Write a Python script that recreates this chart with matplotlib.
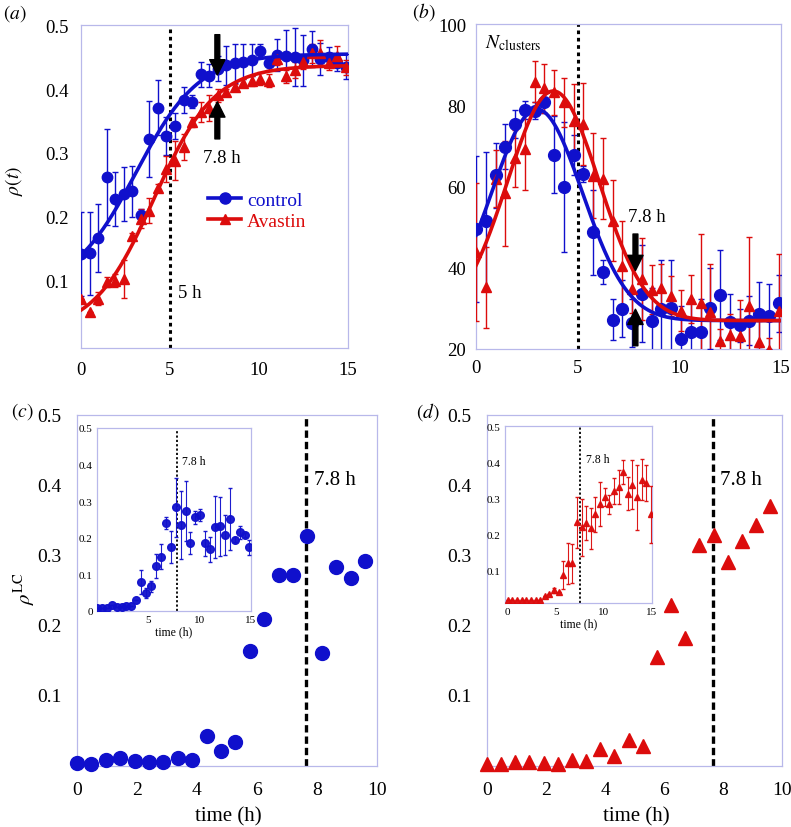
import numpy as np
import matplotlib.pyplot as plt
from matplotlib.lines import Line2D

plt.rcParams['font.family'] = ['Liberation Serif', 'DejaVu Serif']
plt.rcParams['mathtext.fontset'] = 'stix'

BLUE = '#1010cc'
RED = '#dc0c0c'
FRAME = '#b8b8ea'

# sampling times (h), one image every ~29 min
times = [0.0, 0.48, 0.96, 1.44, 1.92, 2.4, 2.88, 3.36, 3.84, 4.32, 4.8,
         5.28, 5.76, 6.24, 6.72, 7.2, 7.68, 8.16, 8.64, 9.12, 9.6, 10.08,
         10.56, 11.04, 11.52, 12.0, 12.48, 12.96, 13.44, 13.92, 14.4, 14.88]

# (a) density rho(t)
rho_control = [0.142, 0.143, 0.167, 0.262, 0.228, 0.236, 0.24, 0.203, 0.322, 0.371, 0.327,
               0.342, 0.383, 0.38, 0.423, 0.421, 0.432, 0.437, 0.44, 0.443, 0.445, 0.46,
               0.44, 0.453, 0.452, 0.45, 0.445, 0.462, 0.447, 0.45, 0.44, 0.435]
rho_control_err = [0.065, 0.065, 0.053, 0.075, 0.042, 0.042, 0.04, 0.01, 0.06, 0.043, 0.03,
                   0.02, 0.02, 0.01, 0.02, 0.018, 0.02, 0.03, 0.03, 0.028, 0.025, 0.01,
                   0.01, 0.025, 0.04, 0.045, 0.04, 0.028, 0.025, 0.015, 0.012, 0.02]
rho_avastin = [0.072, 0.051, 0.072, 0.098, 0.1, 0.103, 0.17, 0.197, 0.21, 0.246, 0.275,
               0.288, 0.309, 0.348, 0.364, 0.37, 0.39, 0.395, 0.403, 0.41, 0.413, 0.416,
               0.413, 0.447, 0.42, 0.43, 0.442, 0.456, 0.456, 0.44, 0.452, 0.434]
rho_avastin_err = [0.0, 0.0, 0.01, 0.008, 0.01, 0.03, 0.005, 0.015, 0.02, 0.005, 0.02,
                   0.03, 0.02, 0.008, 0.015, 0.02, 0.01, 0.005, 0.005, 0.005, 0.008, 0.01,
                   0.01, 0.01, 0.01, 0.012, 0.01, 0.015, 0.02, 0.01, 0.015, 0.012]
# logistic fits: low, high, midpoint, width
fit_a_control = (0.085, 0.455, 3.1, 1.78)
fit_a_avastin = (0.02, 0.437, 4.1, 1.7)

# (b) number of clusters
ncl_control = [49.6, 51.4, 62.8, 69.8, 75.4, 78.8, 78.7, 80.7, 67.8, 59.8, 67.8,
               63.1, 48.7, 39.0, 27.2, 29.9, 26.4, 33.6, 27.0, 29.9, 30.0, 22.5,
               24.3, 24.3, 30.0, 33.3, 26.6, 25.8, 27.0, 28.6, 28.0, 31.3]
ncl_control_err = [18, 17, 8, 5.5, 3.5, 2.3, 2, 2.5, 9.5, 16, 5,
                   2, 10.5, 3, 5, 7, 6, 12, 8, 12, 12, 8,
                   8, 8, 10, 11, 7, 4, 6, 8, 8, 7]
ncl_avastin = [43.8, 35.2, 61.9, 58.3, 66.9, 69.2, 85.8, 84.2, 83.2, 80.7, 76.2,
               75.4, 62.7, 61.9, 51.6, 40.5, 34.8, 37.2, 34.6, 35.0, 33.0, 29.4,
               32.3, 31.3, 29.0, 21.9, 23.5, 23.1, 30.5, 21.8, 19.8, 29.4]
ncl_avastin_err = [17, 10, 7, 13, 7, 10, 5, 6, 5.5, 6, 9,
                   10, 10.5, 10, 10, 11, 6, 10, 6, 6, 5, 5,
                   6, 17, 12, 3, 5, 9, 17, 5, 3, 14]
# gaussian fits: baseline, amplitude, centre, sigma
fit_b_control = (27.0, 52.0, 3.0, 2.23)
fit_b_avastin = (27.0, 56.5, 3.8, 2.25)

# (c) and (d) LC density, main panels (first 10 h)
lc_control = [0.001, 0.0, 0.006, 0.008, 0.004, 0.003, 0.002, 0.008, 0.006, 0.040, 0.018,
              0.031, 0.162, 0.208, 0.270, 0.270, 0.327, 0.159, 0.282, 0.267, 0.291]
lc_avastin = [0.0, 0.0, 0.002, 0.003, 0.001, 0.0, 0.006, 0.004, 0.021, 0.011, 0.034,
              0.026, 0.153, 0.227, 0.18, 0.313, 0.328, 0.289, 0.32, 0.342, 0.37]

# insets, whole 15 h with error bars
lc_control_in = [0.009, 0.007, 0.009, 0.016, 0.012, 0.012, 0.014, 0.014, 0.03, 0.08, 0.05,
                 0.067, 0.123, 0.148, 0.241, 0.175, 0.283, 0.235, 0.273, 0.186, 0.256,
                 0.262, 0.185, 0.169, 0.229, 0.231, 0.207, 0.251, 0.195, 0.215, 0.207, 0.174]
lc_control_in_err = [0, 0, 0, 0, 0, 0, 0, 0, 0, 0.033, 0.014,
                     0.016, 0.034, 0.034, 0.016, 0.043, 0.08, 0.093, 0.082, 0.03, 0.018,
                     0.016, 0.034, 0.034, 0.084, 0.08, 0.055, 0.084, 0.006, 0.018, 0.006, 0.02]
lc_avastin_in = [0.018, 0.018, 0.018, 0.018, 0.018, 0.018, 0.018, 0.018, 0.029, 0.035, 0.045,
                 0.041, 0.087, 0.12, 0.12, 0.234, 0.22, 0.232, 0.218, 0.256, 0.285,
                 0.305, 0.284, 0.32, 0.332, 0.373, 0.313, 0.338, 0.304, 0.352, 0.342, 0.256]
lc_avastin_in_err = [0, 0, 0, 0, 0, 0, 0, 0, 0, 0, 0.008,
                     0, 0.039, 0.057, 0.055, 0.07, 0.08, 0.048, 0.057, 0.048, 0.061,
                     0.025, 0.027, 0.036, 0.047, 0.034, 0.046, 0.068, 0.09, 0.057, 0.05, 0.08]


def logistic(t, low, high, t0, w):
    return low + (high - low) / (1 + np.exp(-(t - t0) / w))


def gauss(t, base, amp, t0, s):
    return base + amp * np.exp(-(t - t0) ** 2 / (2 * s ** 2))


def frame(ax, fs, pad):
    for sp in ax.spines.values():
        sp.set_color(FRAME)
        sp.set_linewidth(0.9)
    ax.tick_params(length=0, labelsize=fs, pad=pad)


def arrow(ax, x, y0, y1):
    ax.annotate('', xy=(x, y1), xytext=(x, y0),
                arrowprops=dict(facecolor='black', edgecolor='black', width=3.5,
                                headwidth=11, headlength=11, shrink=0), zorder=6)


fig = plt.figure(figsize=(7.91, 8.28), dpi=100)
t_fit = np.linspace(0, 15, 300)

# ---- (a)
ax = fig.add_axes([0.1024, 0.5785, 0.3375, 0.390])
frame(ax, 13.5, 9)
ax.errorbar(times, rho_control, yerr=rho_control_err, fmt='o', color=BLUE, ms=7.5,
            elinewidth=1, capsize=2, zorder=3)
ax.errorbar(times, rho_avastin, yerr=rho_avastin_err, fmt='^', color=RED, ms=6.5,
            elinewidth=1, capsize=2, zorder=3)
ax.plot(t_fit, logistic(t_fit, *fit_a_control), color=BLUE, lw=2.6, zorder=4)
ax.plot(t_fit, logistic(t_fit, *fit_a_avastin), color=RED, lw=2.6, zorder=4)
ax.axvline(5, color='black', ls=(0, (1.2, 1.2)), lw=2.2, zorder=2)
arrow(ax, 7.66, 0.485, 0.422)
arrow(ax, 7.66, 0.322, 0.38)
ax.text(7.9, 0.293, '7.8 h', fontsize=13.5, ha='center', va='center')
ax.text(6.1, 0.082, '5 h', fontsize=13.5, ha='center', va='center')
ax.set_xlim(0, 15)
ax.set_ylim(-0.005, 0.5)
ax.set_xticks([0, 5, 10, 15])
ax.set_yticks([0.1, 0.2, 0.3, 0.4, 0.5])
handles = [Line2D([], [], color=BLUE, marker='o', ms=8, lw=2.6),
           Line2D([], [], color=RED, marker='^', ms=7, lw=2.6)]
ax.legend(handles, ['control', 'Avastin'], loc='upper left', bbox_to_anchor=(0.44, 0.515),
          frameon=False, fontsize=14, handlelength=1.7, handletextpad=0.3,
          labelspacing=0.15, borderpad=0, labelcolor=[BLUE, RED])

# ---- (b)
ax = fig.add_axes([0.6018, 0.5773, 0.3856, 0.3925])
frame(ax, 13.5, 7)
ax.errorbar(times, ncl_control, yerr=ncl_control_err, fmt='o', color=BLUE, ms=8.5,
            elinewidth=1, capsize=2, zorder=3)
ax.errorbar(times, ncl_avastin, yerr=ncl_avastin_err, fmt='^', color=RED, ms=7.5,
            elinewidth=1, capsize=2, zorder=3)
ax.plot(t_fit, gauss(t_fit, *fit_b_control), color=BLUE, lw=2.6, zorder=4)
ax.plot(t_fit, gauss(t_fit, *fit_b_avastin), color=RED, lw=2.6, zorder=4)
ax.axvline(5, color='black', ls=(0, (1.2, 1.2)), lw=2.2, zorder=2)
arrow(ax, 7.84, 48.3, 39.3)
arrow(ax, 7.84, 20.8, 29.8)
ax.text(8.4, 52.5, '7.8 h', fontsize=13.5, ha='center', va='center')
ax.text(0.45, 95.5, r'$N_{\rm clusters}$', fontsize=14, ha='left', va='center')
ax.set_xlim(0, 15)
ax.set_ylim(20, 100)
ax.set_xticks([0, 5, 10, 15])
ax.set_yticks([20, 40, 60, 80, 100])

# ---- (c) and (d)
for pos, vals, mk, col, ms, vline in [
        ([0.0973, 0.0737, 0.3792, 0.4239], lc_control, 'o', BLUE, 10, 7.65),
        ([0.6157, 0.0737, 0.3729, 0.4239], lc_avastin, '^', RED, 10, 7.65)]:
    ax = fig.add_axes(pos)
    frame(ax, 14, 11)
    ax.plot(times[:21], vals, mk, color=col, ms=ms, clip_on=False, zorder=3)
    ax.axvline(vline, color='black', ls=(0, (2.2, 1.2)), lw=2.4, zorder=2)
    ax.text(8.6, 0.408, '7.8 h', fontsize=15, ha='center', va='center')
    ax.set_xlim(0, 10)
    ax.set_ylim(-0.003, 0.5)
    ax.set_xticks([0, 2, 4, 6, 8, 10])
    ax.set_yticks([0.1, 0.2, 0.3, 0.4, 0.5])

# insets
for pos, vals, errs, mk, col, ms, vline, xlo, yticks, xticks in [
        ([0.1226, 0.2609, 0.1943, 0.221], lc_control_in, lc_control_in_err, 'o', BLUE, 5.5,
         7.8, 0.0, [0, 0.1, 0.2, 0.3, 0.4, 0.5], [5, 10, 15]),
        ([0.6384, 0.2705, 0.1858, 0.2132], lc_avastin_in, lc_avastin_in_err, '^', RED, 4,
         7.5, -0.3, [0.1, 0.2, 0.3, 0.4, 0.5], [0, 5, 10, 15])]:
    ins = fig.add_axes(pos, zorder=5)
    frame(ins, 8, 3)
    ins.errorbar(times, vals, yerr=errs, fmt=mk, color=col, ms=ms, elinewidth=0.8,
                 capsize=1.5, alpha=0.95, zorder=3)
    ins.axvline(vline, color='black', ls=(0, (1.2, 1.2)), lw=1.3, zorder=2)
    ins.text(9.4, 0.41, '7.8 h', fontsize=8.5, ha='center', va='center')
    ins.set_xlim(xlo, 15)
    ins.set_ylim(0.01 if xlo < 0 else 0, 0.5)
    ins.set_yticks(yticks)
    ins.set_yticklabels(['0' if v == 0 else f'{v:g}' for v in yticks])
    ins.set_xticks(xticks)
    ins.set_xlabel('time (h)', fontsize=8.5, labelpad=1)

# axis titles and panel letters
fig.text(14 / 791, 1 - 181 / 828, r'$\rho(t)$', fontsize=14, rotation=90, ha='center', va='center')
fig.text(24 / 791, 1 - 589 / 828, r'$\rho^{\rm LC}$', fontsize=15, rotation=90, ha='center', va='center')
fig.text(228 / 791, 1 - 817 / 828, 'time (h)', fontsize=15, ha='center', va='center')
fig.text(636 / 791, 1 - 817 / 828, 'time (h)', fontsize=15, ha='center', va='center')
fig.text(15 / 791, 1 - 14 / 828, r'$(a)$', fontsize=14, ha='center', va='center')
fig.text(424 / 791, 1 - 12 / 828, r'$(b)$', fontsize=14, ha='center', va='center')
fig.text(22 / 791, 1 - 412 / 828, r'$(c)$', fontsize=14, ha='center', va='center')
fig.text(428 / 791, 1 - 412 / 828, r'$(d)$', fontsize=14, ha='center', va='center')

fig.savefig('out.png', dpi=100)
